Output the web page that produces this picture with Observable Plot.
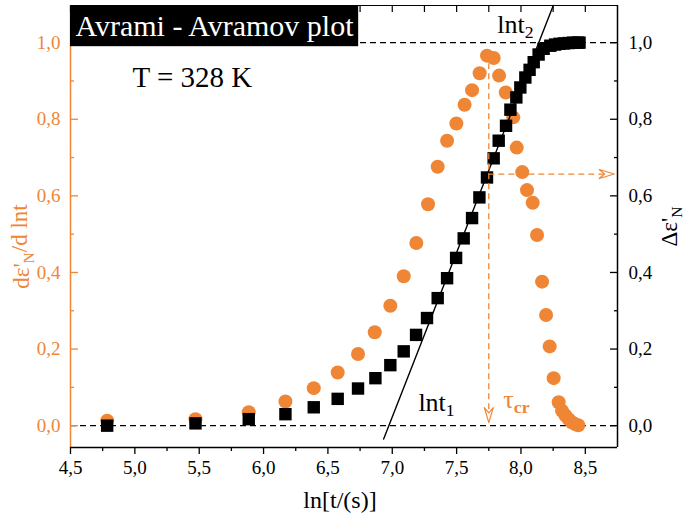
<!DOCTYPE html>
<html>
<head>
<meta charset="utf-8">
<script src="https://cdn.jsdelivr.net/npm/d3@7"></script>
<script src="https://cdn.jsdelivr.net/npm/@observablehq/plot@0.6"></script>
<style>
  body { margin: 0; background: #fff; }
  #chart svg { display: block; }
</style>
</head>
<body>
<div id="chart"></div>
<script>
// Avrami - Avramov analysis at T = 328 K
const orange = "#ef8636";
const serif = "Liberation Serif";

// dε'N/d lnt (orange circles, left axis)
const rateX = [4.785, 5.471, 5.885, 6.170, 6.390, 6.576, 6.734, 6.864, 6.985, 7.089, 7.187, 7.278, 7.353, 7.426, 7.498, 7.562, 7.620, 7.679, 7.736, 7.788, 7.830, 7.882, 7.940, 7.967, 8.010, 8.047, 8.091, 8.125, 8.164, 8.195, 8.223, 8.254, 8.293, 8.319, 8.345, 8.370, 8.395, 8.420, 8.445];
const rateY = [0.013, 0.017, 0.035, 0.063, 0.098, 0.139, 0.187, 0.244, 0.313, 0.390, 0.477, 0.578, 0.676, 0.744, 0.789, 0.838, 0.876, 0.920, 0.966, 0.960, 0.914, 0.870, 0.805, 0.726, 0.662, 0.615, 0.582, 0.498, 0.376, 0.289, 0.207, 0.124, 0.061, 0.039, 0.027, 0.017, 0.009, 0.004, 0.001];

// Δε'N (black squares, right axis)
const fracX = [4.785, 5.471, 5.885, 6.170, 6.390, 6.576, 6.734, 6.869, 6.985, 7.089, 7.185, 7.270, 7.353, 7.426, 7.496, 7.555, 7.620, 7.677, 7.736, 7.788, 7.827, 7.884, 7.918, 7.964, 7.995, 8.034, 8.067, 8.099, 8.137, 8.176, 8.228, 8.265, 8.300, 8.335, 8.370, 8.405, 8.440, 8.455];
const fracY = [0.000, 0.006, 0.017, 0.030, 0.048, 0.070, 0.097, 0.124, 0.158, 0.194, 0.237, 0.281, 0.333, 0.385, 0.438, 0.489, 0.542, 0.596, 0.648, 0.698, 0.744, 0.783, 0.825, 0.857, 0.883, 0.909, 0.929, 0.949, 0.969, 0.984, 0.992, 0.995, 0.997, 0.998, 0.999, 1.000, 1.000, 1.000];

// Tangent through the linear part of Δε'N (lnt1 → lnt2)
const fitX = [6.933, 8.251];
const fitY = [-0.035, 1.097];

// Critical time and the level it reads on the Δε'N axis
const tauCr = [7.75];
const tauLevel = [0.657];

// Axis ticks
const xTicks = [4.5, 5.0, 5.5, 6.0, 6.5, 7.0, 7.5, 8.0, 8.5];
const xMinor = [4.75, 5.25, 5.75, 6.25, 6.75, 7.25, 7.75, 8.25];
const yTicks = [0.0, 0.2, 0.4, 0.6, 0.8, 1.0];
const yMinor = [0.1, 0.3, 0.5, 0.7, 0.9];
const refLevels = [0, 1];

const xDomain = [4.5, 8.75];
const yDomain = [-0.057, 1.097];

const titleText = "Avrami - Avramov plot";

const comma = (d) => d3.format(".1f")(d).replace(".", ",");
const blank = () => "";

const rate = rateX.map((x, i) => ({x, y: rateY[i]}));
const frac = fracX.map((x, i) => ({x, y: fracY[i]}));
const fit = fitX.map((x, i) => ({x, y: fitY[i]}));

// Stealth-style arrowhead, tip at the end of the vector
const arrowHead = {
  draw(context, l) {
    const w = 4.5;
    context.moveTo(0, -l);
    context.lineTo(-w, 0);
    context.lineTo(0, -l * 0.35);
    context.lineTo(w, 0);
    context.closePath();
  }
};

const T = {fontFamily: serif};

const chart = Plot.plot({
  width: 684,
  height: 521,
  marginLeft: 70,
  marginRight: 67,
  marginTop: 5,
  marginBottom: 74,
  style: {fontSize: "19px", background: "white", color: "black"},
  x: {domain: xDomain},
  y: {domain: yDomain},
  marks: [
    // reference levels 0 and 1
    Plot.ruleY(refLevels, {stroke: "black", strokeWidth: 1.3, strokeDasharray: "6,4"}),
    // data
    Plot.dot(rate, {x: "x", y: "y", r: 7, fill: orange, stroke: "none"}),
    Plot.dot(frac, {x: "x", y: "y", r: 7, symbol: "square", fill: "black", stroke: "none"}),
    // tangent line
    Plot.line(fit, {x: "x", y: "y", stroke: "black", strokeWidth: 1.4}),
    // τcr guides
    Plot.ruleX(tauCr, {y1: 0.945, y2: 0.02, stroke: orange, strokeWidth: 1.3, strokeDasharray: "6,4"}),
    Plot.ruleY(tauLevel, {x1: tauCr[0], x2: 8.7, stroke: orange, strokeWidth: 1.3, strokeDasharray: "6,4"}),
    Plot.vector(tauCr, {x: (d) => d, y: 0.008, rotate: 180, length: 15, anchor: "end", shape: arrowHead, stroke: orange, fill: "white", strokeWidth: 1.2}),
    Plot.vector(tauLevel, {x: 8.725, y: (d) => d, rotate: 90, length: 15, anchor: "end", shape: arrowHead, stroke: orange, fill: "white", strokeWidth: 1.2}),
    // frame
    Plot.ruleX([xDomain[0]], {stroke: orange, strokeWidth: 1.5}),
    Plot.ruleX([xDomain[1]], {stroke: "black", strokeWidth: 1.5}),
    Plot.ruleY([yDomain[0]], {stroke: "black", strokeWidth: 1.5}),
    Plot.ruleY([yDomain[1]], {stroke: "black", strokeWidth: 1.2}),
    // axes
    Plot.axisX({...T, ticks: xTicks, tickSize: 7, tickPadding: 6, tickFormat: comma, fontSize: 19, strokeWidth: 1.3, label: null}),
    Plot.axisX({ticks: xMinor, tickSize: 4, tickFormat: blank, strokeWidth: 1.3, label: null}),
    Plot.axisX({anchor: "top", ticks: xTicks.concat(xMinor), tickSize: -6, tickFormat: blank, strokeWidth: 1.2, label: null}),
    Plot.axisY({...T, anchor: "left", ticks: yTicks, tickSize: -8, tickPadding: 18, tickFormat: comma, color: orange, fontSize: 19, strokeWidth: 1.3, label: null}),
    Plot.axisY({anchor: "left", ticks: yMinor, tickSize: -4, tickFormat: blank, color: orange, strokeWidth: 1.3, label: null}),
    Plot.axisY({...T, anchor: "right", ticks: yTicks, tickSize: -8, tickPadding: 19, tickFormat: comma, fontSize: 19, strokeWidth: 1.3, label: null}),
    Plot.axisY({anchor: "right", ticks: yMinor, tickSize: -4, tickFormat: blank, strokeWidth: 1.3, label: null}),
    // axis titles
    Plot.text(["ln[t/(s)]"], {...T, frameAnchor: "bottom", dx: -4, dy: 53, fontSize: 24, textAnchor: "middle", lineAnchor: "middle"}),
    Plot.text(["dε'N/d lnt"], {...T, frameAnchor: "left", dx: -49, dy: 20, rotate: -90, fontSize: 23, fill: orange, textAnchor: "middle", lineAnchor: "middle"}),
    Plot.text(["Δε'N"], {...T, frameAnchor: "right", dx: 52, dy: 0, rotate: -90, fontSize: 23, textAnchor: "middle", lineAnchor: "middle"}),
    // annotations
    Plot.text([titleText], {...T, frameAnchor: "top-left", dx: 5, dy: 21, textAnchor: "start", lineAnchor: "middle", fill: "white", fontSize: 30}),
    Plot.text(["T = 328 K"], {...T, frameAnchor: "top-left", dx: 62, dy: 72, textAnchor: "start", lineAnchor: "middle", fontSize: 29}),
    Plot.text(["lnt2"], {...T, x: 7.816, y: 1.026, textAnchor: "start", lineAnchor: "bottom", fontSize: 26}),
    Plot.text(["lnt1"], {...T, x: 7.203, y: 0.039, textAnchor: "start", lineAnchor: "bottom", fontSize: 26}),
    Plot.text(["τcr"], {...T, x: 7.863, y: 0.047, textAnchor: "start", lineAnchor: "bottom", fontSize: 26, fill: orange})
  ]
});

chart.setAttribute("font-family", serif);
document.getElementById("chart").append(chart);

// Serif face on every label
d3.select(chart).selectAll("text").attr("font-family", serif);

// Rich labels: subscripts drawn as shifted tspans
const richLabels = new Map([
  ["lnt2", [["lnt"], ["2", true]]],
  ["lnt1", [["lnt"], ["1", true]]],
  ["τcr", [["τ"], ["cr", true, true]]],
  ["dε'N/d lnt", [["dε'"], ["N", true], ["/d lnt"]]],
  ["Δε'N", [["Δε'"], ["N", true]]]
]);
d3.select(chart).selectAll("text").each(function () {
  const parts = richLabels.get(this.textContent);
  if (!parts) return;
  const t = d3.select(this);
  t.text(null);
  let shifted = false;
  for (const [s, sub, bold] of parts) {
    const ts = t.append("tspan").text(s);
    if (sub) {
      ts.attr("dy", "0.3em").attr("font-size", "0.68em");
      if (bold) ts.attr("font-weight", "bold");
      shifted = true;
    } else if (shifted) {
      ts.attr("dy", "-0.3em");
      shifted = false;
    }
  }
});

// Black box behind the plot title, sized from the title's own extent (in SVG coordinates)
const xs = chart.scale("x"), ys = chart.scale("y");
d3.select(chart).selectAll("text").filter(function () { return this.textContent === titleText; }).each(function () {
  const b = this.getBBox();
  const m = chart.getScreenCTM().inverse().multiply(this.getScreenCTM());
  const p0 = new DOMPoint(b.x, b.y).matrixTransform(m);
  const p1 = new DOMPoint(b.x + b.width, b.y + b.height).matrixTransform(m);
  const left = xs.apply(xDomain[0]);
  const top = ys.apply(yDomain[1]);
  const cy = (p0.y + p1.y) / 2;
  const group = this.parentNode;
  const rect = document.createElementNS("http://www.w3.org/2000/svg", "rect");
  rect.setAttribute("x", left);
  rect.setAttribute("y", top);
  rect.setAttribute("width", Math.max(0, p1.x + 4 - left));
  rect.setAttribute("height", Math.max(0, 2 * (cy - top)));
  rect.setAttribute("fill", "black");
  group.parentNode.insertBefore(rect, group);
});
</script>
</body>
</html>
